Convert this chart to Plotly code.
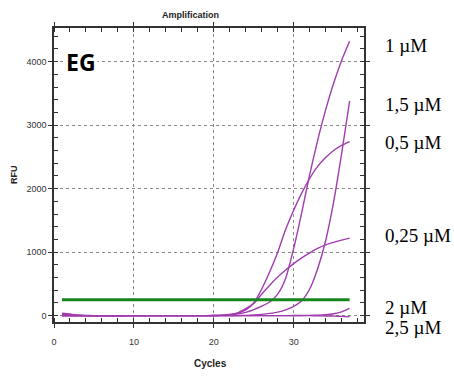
import plotly.graph_objects as go

cycles = list(range(1, 38))

rfu_1uM = [40, 25, 10, 3, 0, -3, -5, -5, -4, -3, -2, 0, 0, 0, 0, 0, 0, 0, 0, 2,
           5, 12, 28, 52, 95, 150, 215, 340, 590, 1060, 1620, 2220, 2760, 3240, 3660, 4020, 4320]
rfu_1_5uM = [0, 0, -3, -3, -2, 0, 0, 0, 0, 0, 0, 0, 0, 0, 0, 0, 0, 0, 0, 0,
             0, 0, 3, 5, 10, 20, 35, 55, 90, 145, 235, 420, 740, 1180, 1790, 2550, 3380]
rfu_0_5uM = [20, 12, 5, 0, -2, -3, -3, -2, 0, 0, 0, 0, 0, 0, 0, 0, 0, 0, 0, 3,
             8, 18, 38, 90, 200, 420, 690, 1000, 1360, 1660, 1930, 2160, 2350, 2490, 2600, 2680, 2740]
rfu_0_25uM = [10, 5, 0, 0, 0, 0, 0, 0, 0, 0, 0, 0, 0, 0, 0, 0, 0, 0, 0, 2,
              5, 15, 45, 110, 190, 340, 480, 610, 720, 820, 910, 990, 1060, 1115, 1155, 1190, 1220]
rfu_2uM = [5, 3, 0, 0, 0, 0, 0, 0, 0, 0, 0, 0, 0, 0, 0, 0, 0, 0, 0, 0,
           0, 0, 0, 0, 0, 0, 0, 0, 0, 2, 3, 5, 8, 15, 30, 60, 115]
rfu_2_5uM = [-5, -3, 0, 0, 0, 0, 0, 0, 0, 0, 0, 0, 0, 0, 0, 0, 0, 0, 0, 0,
             0, 0, 0, 0, 0, 0, 0, 0, 0, 0, 0, 0, -3, -5, -8, -12, -18]

series = [rfu_1uM, rfu_1_5uM, rfu_0_5uM, rfu_0_25uM, rfu_2uM, rfu_2_5uM]
labels = ["1 µM", "1,5 µM", "0,5 µM", "0,25 µM", "2 µM", "2,5 µM"]
label_y = [0.939, 0.741, 0.611, 0.294, 0.051, -0.019]

threshold_cycles = [1, 37]
threshold_rfu = [252, 252]

x_ticks = [0, 10, 20, 30]
y_ticks = [0, 1000, 2000, 3000, 4000]

PURPLE = "#A03CAE"
fig = go.Figure()
for s in series:
    fig.add_trace(go.Scatter(x=cycles, y=s, mode="lines",
                             line=dict(color=PURPLE, width=1.4, shape="spline", smoothing=0.6),
                             showlegend=False, hoverinfo="skip"))
fig.add_trace(go.Scatter(x=threshold_cycles, y=threshold_rfu, mode="lines",
                         line=dict(color="#17861E", width=3), showlegend=False))

axis_common = dict(
    showline=True, linecolor="#333333", linewidth=1.5, mirror="ticks",
    showgrid=True, gridcolor="#8a8a8a", griddash="dot", gridwidth=1,
    zeroline=False, ticks="outside", ticklen=4, tickcolor="#333333",
    tickfont=dict(family="Liberation Sans, Arial", size=9, color="#333333"),
)
fig.update_xaxes(range=[0, 38.8], tickvals=x_ticks, ticklabelstandoff=6,
                 minor=dict(dtick=2, tick0=0, ticks="inside", ticklen=4, tickcolor="#333333", showgrid=False),
                 **axis_common)
fig.update_yaxes(range=[-100, 4530], tickvals=y_ticks,
                 minor=dict(dtick=200, tick0=0, ticks="inside", ticklen=4, tickcolor="#333333", showgrid=False),
                 **axis_common)

ann = [
    dict(text="<b>Amplification</b>", x=0.439, y=1.044, font=dict(size=9, family="Liberation Sans Narrow, Liberation Sans, Arial", color="#222")),
    dict(text="<b>Cycles</b>", x=0.506, y=-0.14, font=dict(size=10, family="Liberation Sans Narrow, Liberation Sans, Arial", color="#222")),
    dict(text="<b>RFU</b>", x=-0.129, y=0.5, textangle=-90, font=dict(size=9, family="Liberation Sans, Arial", color="#222")),
    dict(text="<b>EG</b>", x=0.087, y=0.884, bgcolor="white", font=dict(size=23, family="Open Sans, Arial", color="black")),
]
for a in ann:
    a.update(xref="paper", yref="paper", showarrow=False, xanchor="center", yanchor="middle")
    fig.add_annotation(**a)

for t, yy in zip(labels, label_y):
    fig.add_annotation(text=t, x=1.061, y=yy, xref="paper", yref="paper", showarrow=False,
                       xanchor="left", yanchor="middle",
                       font=dict(size=19, family="Liberation Serif, Times New Roman", color="black"))

fig.update_layout(width=454, height=376, margin=dict(l=54, r=90, t=28, b=54),
                  plot_bgcolor="white", paper_bgcolor="white")
fig.write_html("out.html")
